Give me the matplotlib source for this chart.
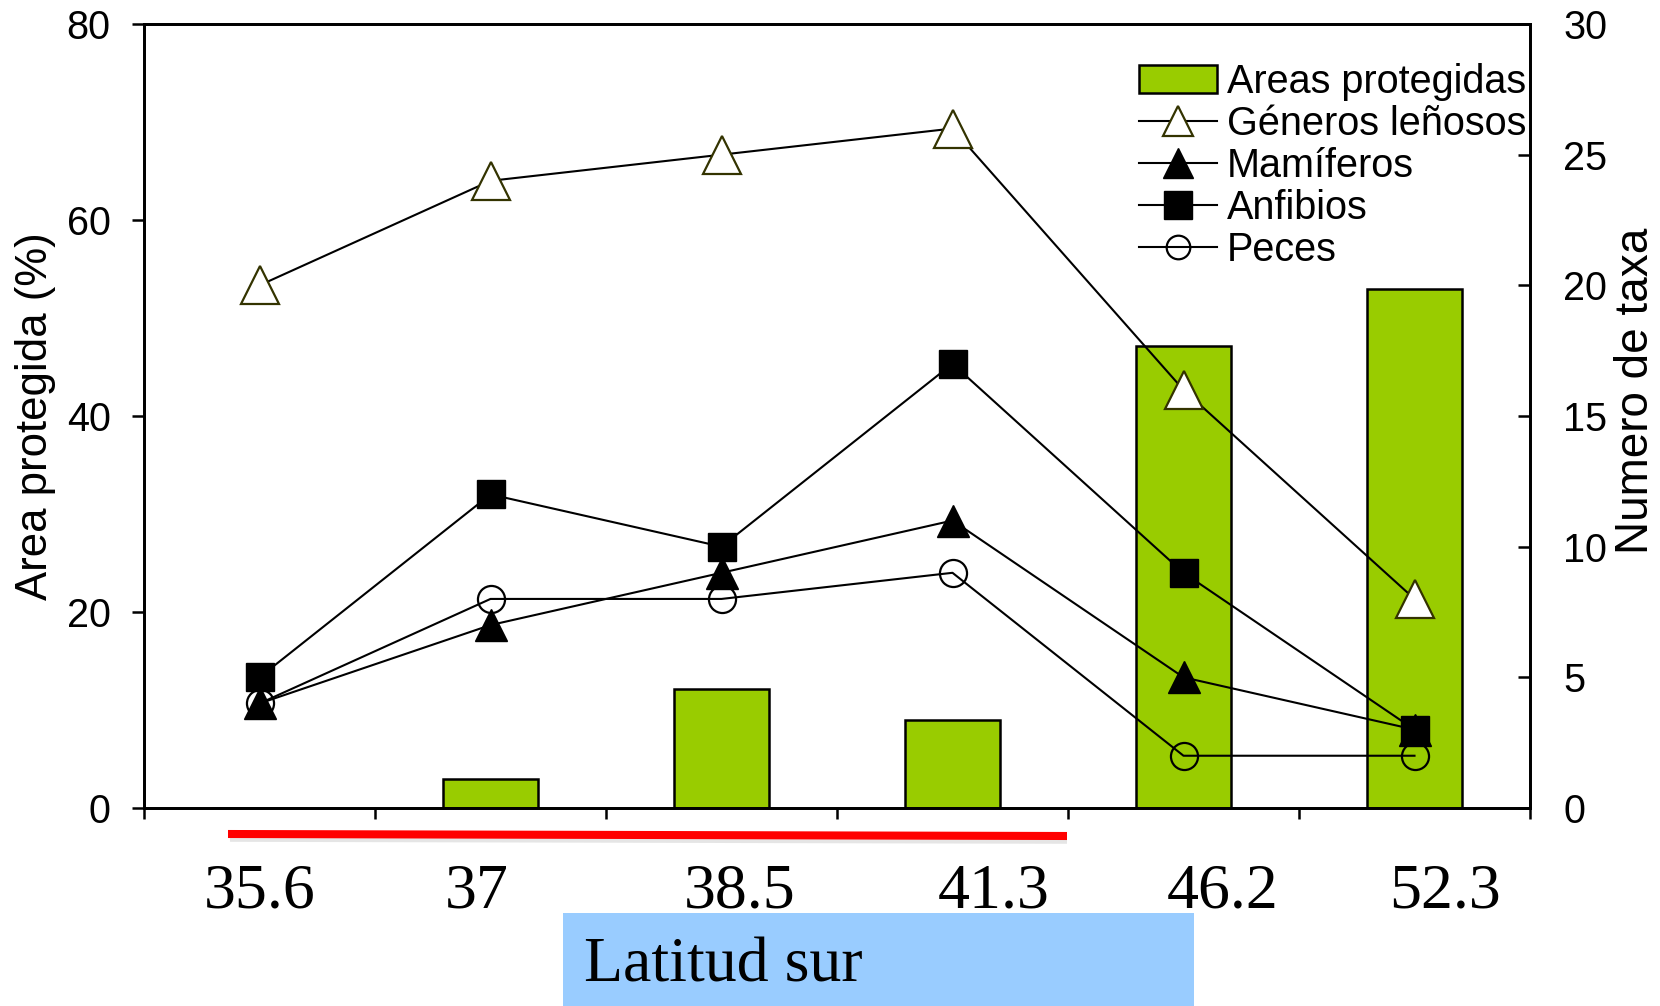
import matplotlib
matplotlib.use("Agg")
import matplotlib.pyplot as plt
from matplotlib.patches import Patch, Rectangle
from matplotlib.lines import Line2D

plt.rcParams['font.family'] = ['Liberation Sans', 'DejaVu Sans']

# data
latitudes = ["35.6", "37", "38.5", "41.3", "46.2", "52.3"]
area_protegida = [0, 3, 12.1, 9, 47.1, 53]      # left axis, %
generos_lenosos = [20, 24, 25, 26, 16, 8]       # right axis, number of taxa
mamiferos = [4, 7, 9, 11, 5, 3]
anfibios = [5, 12, 10, 17, 9, 3]
peces = [4, 8, 8, 9, 2, 2]

W, H = 1660, 1006
fig = plt.figure(figsize=(W / 100, H / 100), dpi=100)

x0, x1, ytop, ybot = 144, 1530, 24, 808
ax = fig.add_axes([x0 / W, 1 - ybot / H, (x1 - x0) / W, (ybot - ytop) / H])

xs = list(range(len(latitudes)))
ax.bar(xs, area_protegida, width=0.41, color="#99CC00", edgecolor="black",
       linewidth=1.8, zorder=2)
ax.set_xlim(-0.5, len(latitudes) - 0.5)
ax.set_ylim(0, 80)
ax.set_yticks([0, 20, 40, 60, 80])
ax.tick_params(axis='y', direction='out', length=9, width=1.8, pad=15, labelsize=28.5)

# boundaries get the ticks; labels sit a little off centre, as in the original slide
label_shift = [0.0, -0.06, 0.08, 0.18, 0.17, 0.13]
ax.set_xticks([i - 0.5 for i in range(len(latitudes) + 1)])
ax.set_xticklabels([])
ax.set_xticks([x + d for x, d in zip(xs, label_shift)], latitudes, minor=True)
ax.tick_params(axis='x', which='major', direction='out', length=8, width=1.8)
ax.tick_params(axis='x', which='minor', length=0, pad=40, labelsize=46)
for lab in ax.get_xticklabels(minor=True):
    lab.set_fontfamily('Liberation Serif')

for sp in ax.spines.values():
    sp.set_linewidth(2)

ax2 = ax.twinx()
ax2.set_ylim(0, 30)
ax2.set_yticks([0, 5, 10, 15, 20, 25, 30])
ax2.tick_params(axis='y', direction='in', length=9, width=1.8, pad=24, labelsize=28.5)
for sp in ax2.spines.values():
    sp.set_linewidth(2)

lw = 1.5
ax2.plot(xs, peces, color="black", lw=lw, marker="o", ms=19.5, mfc="none",
         mec="black", mew=1.6, zorder=3)
ax2.plot(xs, mamiferos, color="black", lw=lw, marker="^", ms=23, mfc="black",
         mec="black", zorder=4)
ax2.plot(xs, anfibios, color="black", lw=lw, marker="s", ms=20, mfc="black",
         mec="black", zorder=5)
ax2.plot(xs, generos_lenosos, color="black", lw=lw, marker="^", ms=27, mfc="white",
         mec="#333300", mew=1.6, zorder=6)

# axis titles
fig.text(36 / W, 1 - 416 / H, "Area protegida (%)", rotation=90, fontsize=31.5,
         ha="center", va="center")
fig.text(1636 / W, 1 - 391 / H, "Numero de taxa", rotation=90, fontsize=33,
         ha="center", va="center")

handles = [
    Patch(facecolor="#99CC00", edgecolor="black", linewidth=1.8),
    Line2D([], [], color="black", lw=lw, marker="^", ms=21, mfc="white", mec="#333300", mew=1.6),
    Line2D([], [], color="black", lw=lw, marker="^", ms=21, mfc="black", mec="black"),
    Line2D([], [], color="black", lw=lw, marker="s", ms=20, mfc="black", mec="black"),
    Line2D([], [], color="black", lw=lw, marker="o", ms=17, mfc="none", mec="black", mew=1.6),
]
labels = ["Areas protegidas", "Géneros leñosos", "Mamíferos", "Anfibios", "Peces"]
ax2.legend(handles, labels, loc="upper right", bbox_to_anchor=(1526 / W, 1 - 63 / H),
           bbox_transform=fig.transFigure, frameon=False, borderpad=0, borderaxespad=0,
           handlelength=1.97, handletextpad=0.25, labelspacing=0.1, fontsize=28.5)

# red line under the first four latitudes, with a faint shadow
fig.add_artist(Line2D([230 / W, 1067 / W], [1 - 838 / H, 1 - 840 / H],
                      transform=fig.transFigure, color="#cccccc", lw=5.5, alpha=0.5,
                      solid_capstyle="butt"))
fig.add_artist(Line2D([228 / W, 1067 / W], [1 - 834 / H, 1 - 836 / H],
                      transform=fig.transFigure, color="red", lw=5.8,
                      solid_capstyle="butt"))

# blue label box
fig.add_artist(Rectangle((563 / W, 0), (1194 - 563) / W, (H - 913) / H,
                         transform=fig.transFigure, facecolor="#99CCFF", edgecolor="none"))
fig.text(584 / W, 1 - 966 / H, "Latitud sur", fontsize=46, family="Liberation Serif",
         ha="left", va="center")

fig.savefig("out.png", dpi=100)
